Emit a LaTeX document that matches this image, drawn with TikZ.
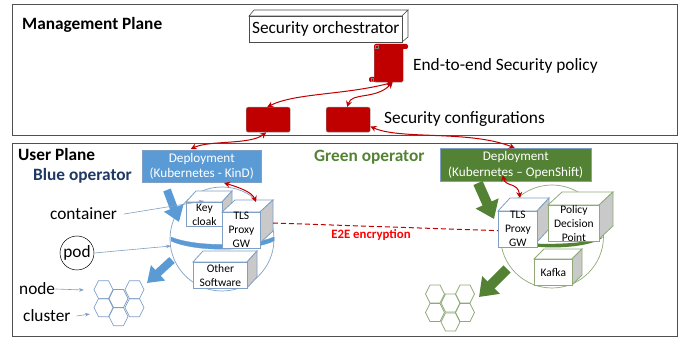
\documentclass[tikz,border=0pt]{standalone}
\usepackage{fontspec}
\setmainfont{Carlito}
\usetikzlibrary{arrows.meta,positioning,calc}
\definecolor{bluefill}{HTML}{5B9BD5}
\definecolor{blueline}{HTML}{7F9FC4}
\definecolor{blueop}{HTML}{1F3864}
\definecolor{greenfill}{HTML}{548235}
\definecolor{greenline}{HTML}{8FAA78}
\definecolor{darkred}{HTML}{C00000}
\definecolor{sidegrey}{HTML}{C9C9C9}
\definecolor{frameline}{HTML}{505050}
\tikzset{
  plane/.style={draw=frameline,line width=0.8pt},
  planetitle/.style={font=\fontsize{17.3}{20}\selectfont\bfseries,anchor=west,inner sep=0pt},
  lbl/.style={font=\fontsize{17.3}{20}\selectfont,anchor=west,inner sep=0pt},
  deploy/.style={anchor=north west,inner sep=0pt,minimum width=#1,text=white,align=center,font=\fontsize{13.2}{15.5}\selectfont},
  folder/.style={fill=darkred,draw=black!45,line width=0.4pt,rounded corners=2pt,anchor=north west,inner sep=0pt,minimum width=44pt,minimum height=25pt},
  redlink/.style={draw=darkred,line width=1pt,{Stealth[length=6pt,width=6pt]}-{Stealth[length=6pt,width=6pt]}},
  bigblue/.style={draw=bluefill,line width=8pt,-{Triangle[width=20pt,length=15pt]}},
  biggreen/.style={draw=greenfill,line width=10pt,-{Triangle[width=24pt,length=17pt]}},
  thinarrow/.style={draw=blueline,line width=0.6pt,-{Stealth[length=5pt,width=3.5pt]}},
  hexblue/.style={draw=blueline,line width=0.7pt},
  hexgreen/.style={draw=greenline,line width=0.7pt},
}
% name, x, y, w, h, dx, dy, colour, text
\newcommand{\cubebox}[9]{%
  \fill[white,draw=#8,line width=0.8pt] (#2,#3) -- ++(#6,-#7) -- ++(#4,0) -- ++(-#6,#7) -- cycle;
  \fill[sidegrey,draw=#8,line width=0.8pt] (#2+#4,#3) -- ++(#6,-#7) -- ++(0,#5) -- ++(-#6,#7) -- cycle;
  \node[draw=#8,fill=white,line width=0.8pt,anchor=north west,minimum width=#4pt,minimum height=#5pt,inner sep=0pt,align=center,font=\fontsize{11.5}{14}\selectfont] (#1) at (#2,#3) {#9};
}
\newcommand{\hexcell}[3]{%
  \draw[#1] (#2-9.5,#3) -- (#2-5,#3-9) -- (#2+5,#3-9) -- (#2+9.5,#3) -- (#2+5,#3+9) -- (#2-5,#3+9) -- cycle;
}
\begin{document}
\begin{tikzpicture}[x=1pt,y=-1pt]
\useasboundingbox (0,0) rectangle (681,339);
% planes
\draw[plane] (12,4.5) rectangle (677,135);
\draw[plane] (12,143) rectangle (677,336);
\node[planetitle] (mgmt) at (22,25) {Management Plane};
\node[planetitle] (user) at (18,154) {User Plane};
\node[planetitle,text=blueop] (blueopl) at (33,176) {Blue operator};
\node[planetitle,text=greenfill] (greenopl) at (314,157) {Green operator};
% orchestrator
\draw[black!70,fill=white,line width=0.6pt] (249,16) -- (254,10) -- (408,10) -- (402,16) -- cycle;
\draw[black!70,fill=white,line width=0.6pt] (402,16) -- (408,10) -- (408,37) -- (402,42) -- cycle;
\node[draw=black!70,fill=white,line width=0.6pt,anchor=north west,inner sep=0pt,minimum width=153pt,minimum height=26pt,font=\fontsize{17.3}{20}\selectfont] (orch) at (249,16) {Security orchestrator};
% scroll
\node[fill=darkred,draw=black!45,line width=0.4pt,anchor=north west,inner sep=0pt,minimum width=29pt,minimum height=38pt,rounded corners=1.5pt] (scroll) at (374,44) {};
\fill[darkred,rounded corners=2pt] (374,44) rectangle (408,49);
\fill[darkred,rounded corners=2pt] (369,77) rectangle (376,82);
\draw[black!50,line width=0.4pt] (375,45) rectangle (378,48);
\draw[black!50,line width=0.4pt] (371,78) rectangle (373.5,81);
\node[lbl] (policy) at (413,66) {End-to-end Security policy};
\node[lbl] (configs) at (384,119) {Security configurations};
% folders
\node[folder] (f1) at (246,107) {};
\node[folder] (f2) at (326,107) {};
% deployments
\node[deploy=119pt,fill=bluefill,minimum height=32pt,draw=blueline,line width=0.5pt] (depb) at (142,150) {Deployment\\(Kubernetes - KinD)};
\node[deploy=151pt,fill=greenfill,minimum height=33pt,draw=blueline,line width=0.5pt] (depg) at (440,148) {Deployment\\(Kubernetes – OpenShift)};
% red links
\coordinate (sa) at ([xshift=4pt]scroll.south);
\draw[redlink] ([xshift=-1pt]f1.north) .. controls (295,93) and (345,95) .. (sa);
\draw[redlink] ([xshift=-1pt]f2.north) .. controls (352,92) and (375,100) .. (sa);
\draw[redlink] ([xshift=-2pt]f1.south) .. controls (250,145) and (210,140) .. ([xshift=-11pt,yshift=1pt]depb.north);
\draw[redlink] ([yshift=6pt]f2.south east) .. controls (400,140) and (470,130) .. ([xshift=-1pt]depg.north);
% blue pod
\draw[blueline,line width=0.7pt] (222,239) circle (52);
\draw[bluefill,fill=bluefill,line width=0.3pt] (171,237) .. controls (195,247) and (250,247) .. (274,237) -- (274,241) .. controls (250,252) and (195,252) .. (171,241) -- cycle;
\cubebox{key}{186}{202}{36}{24}{10}{11}{blueline}{Key\\cloak}
\cubebox{tlsb}{222}{212}{38}{31}{13}{12}{blueline}{TLS\\Proxy\\GW}
\cubebox{other}{193}{262}{54}{26}{10}{11}{blueline}{Other\\Software}
\coordinate (bluetop) at (167,190);
\coordinate (bluetip) at (179,222);
\coordinate (bluelow) at (172,260);
\coordinate (bluelowtip) at (147,283);
\draw[bigblue] (bluetop) -- (bluetip);
\draw[bigblue] (bluelow) -- (bluelowtip);
\coordinate (blinka) at (224,183);
\coordinate (blinkb) at (256,202);
\draw[redlink] (blinka) .. controls (238,187) and (252,192) .. (blinkb);
% green pod
\draw[greenline,line width=0.7pt] (552,236.5) circle (51.5);
\fill[greenfill] (517,242) .. controls (535,245) and (585,245) .. (603,237) .. controls (595,247) and (540,252) .. (517,242) -- cycle;
\cubebox{tlsg}{498}{211}{39}{31}{12}{13}{blueline}{TLS\\Proxy\\GW}
\cubebox{pdp}{548}{205}{51}{34}{14}{13}{greenline}{Policy\\Decision\\Point}
\cubebox{kafka}{534}{259}{38}{26}{10}{10}{greenline}{Kafka}
\coordinate (greentop) at (478,183);
\coordinate (greentip) at (494,219);
\coordinate (greenlow) at (507,269);
\coordinate (greenlowtip) at (479,297);
\draw[biggreen] (greentop) -- (greentip);
\draw[biggreen] (greenlow) -- (greenlowtip);
\coordinate (glinka) at (503,175);
\coordinate (glinkb) at (520,198);
\draw[redlink] (glinka) .. controls (505,187) and (518,182) .. (glinkb);
% e2e
\coordinate (e2estart) at (273,223);
\draw[darkred,line width=1pt,dash pattern=on 5pt off 3pt] (e2estart) -- ([yshift=-1.5pt]tlsg.west);
\node[font=\fontsize{12.8}{15}\selectfont\bfseries,text=red,inner sep=0pt] (e2e) at (371,235) {E2E encryption};
% left labels
\node[lbl] (container) at (50,214) {container};
\node[draw=black,circle,minimum size=34pt,inner sep=0pt,font=\fontsize{17.3}{20}\selectfont,fill=white,line width=0.5pt] (pod) at (77,253) {pod};
\node[lbl] (nodelbl) at (19,289) {node};
\node[lbl] (clusterlbl) at (23,316) {cluster};
\coordinate (ctip) at (204,201);
\coordinate (ptip) at (171,246);
\coordinate (ntip) at (84,290);
\coordinate (cltip) at (90,314);
\draw[thinarrow] ([xshift=7pt]container.east) -- (ctip);
\draw[thinarrow] (pod.east) -- (ptip);
\draw[thinarrow] (nodelbl.east) -- (ntip);
\draw[thinarrow] ([xshift=6pt]clusterlbl.east) -- (cltip);
% hexagons
\hexcell{hexblue}{103.5}{289.7}
\hexcell{hexblue}{134.5}{289.7}
\hexcell{hexblue}{118.5}{298.5}
\hexcell{hexblue}{103.5}{307.7}
\hexcell{hexblue}{134.5}{307.7}
\hexcell{hexblue}{118.5}{316.7}
\hexcell{hexgreen}{435}{294}
\hexcell{hexgreen}{465}{294}
\hexcell{hexgreen}{450.5}{303}
\hexcell{hexgreen}{435}{312.5}
\hexcell{hexgreen}{465}{312.5}
\hexcell{hexgreen}{450.5}{322}
\end{tikzpicture}
\end{document}
